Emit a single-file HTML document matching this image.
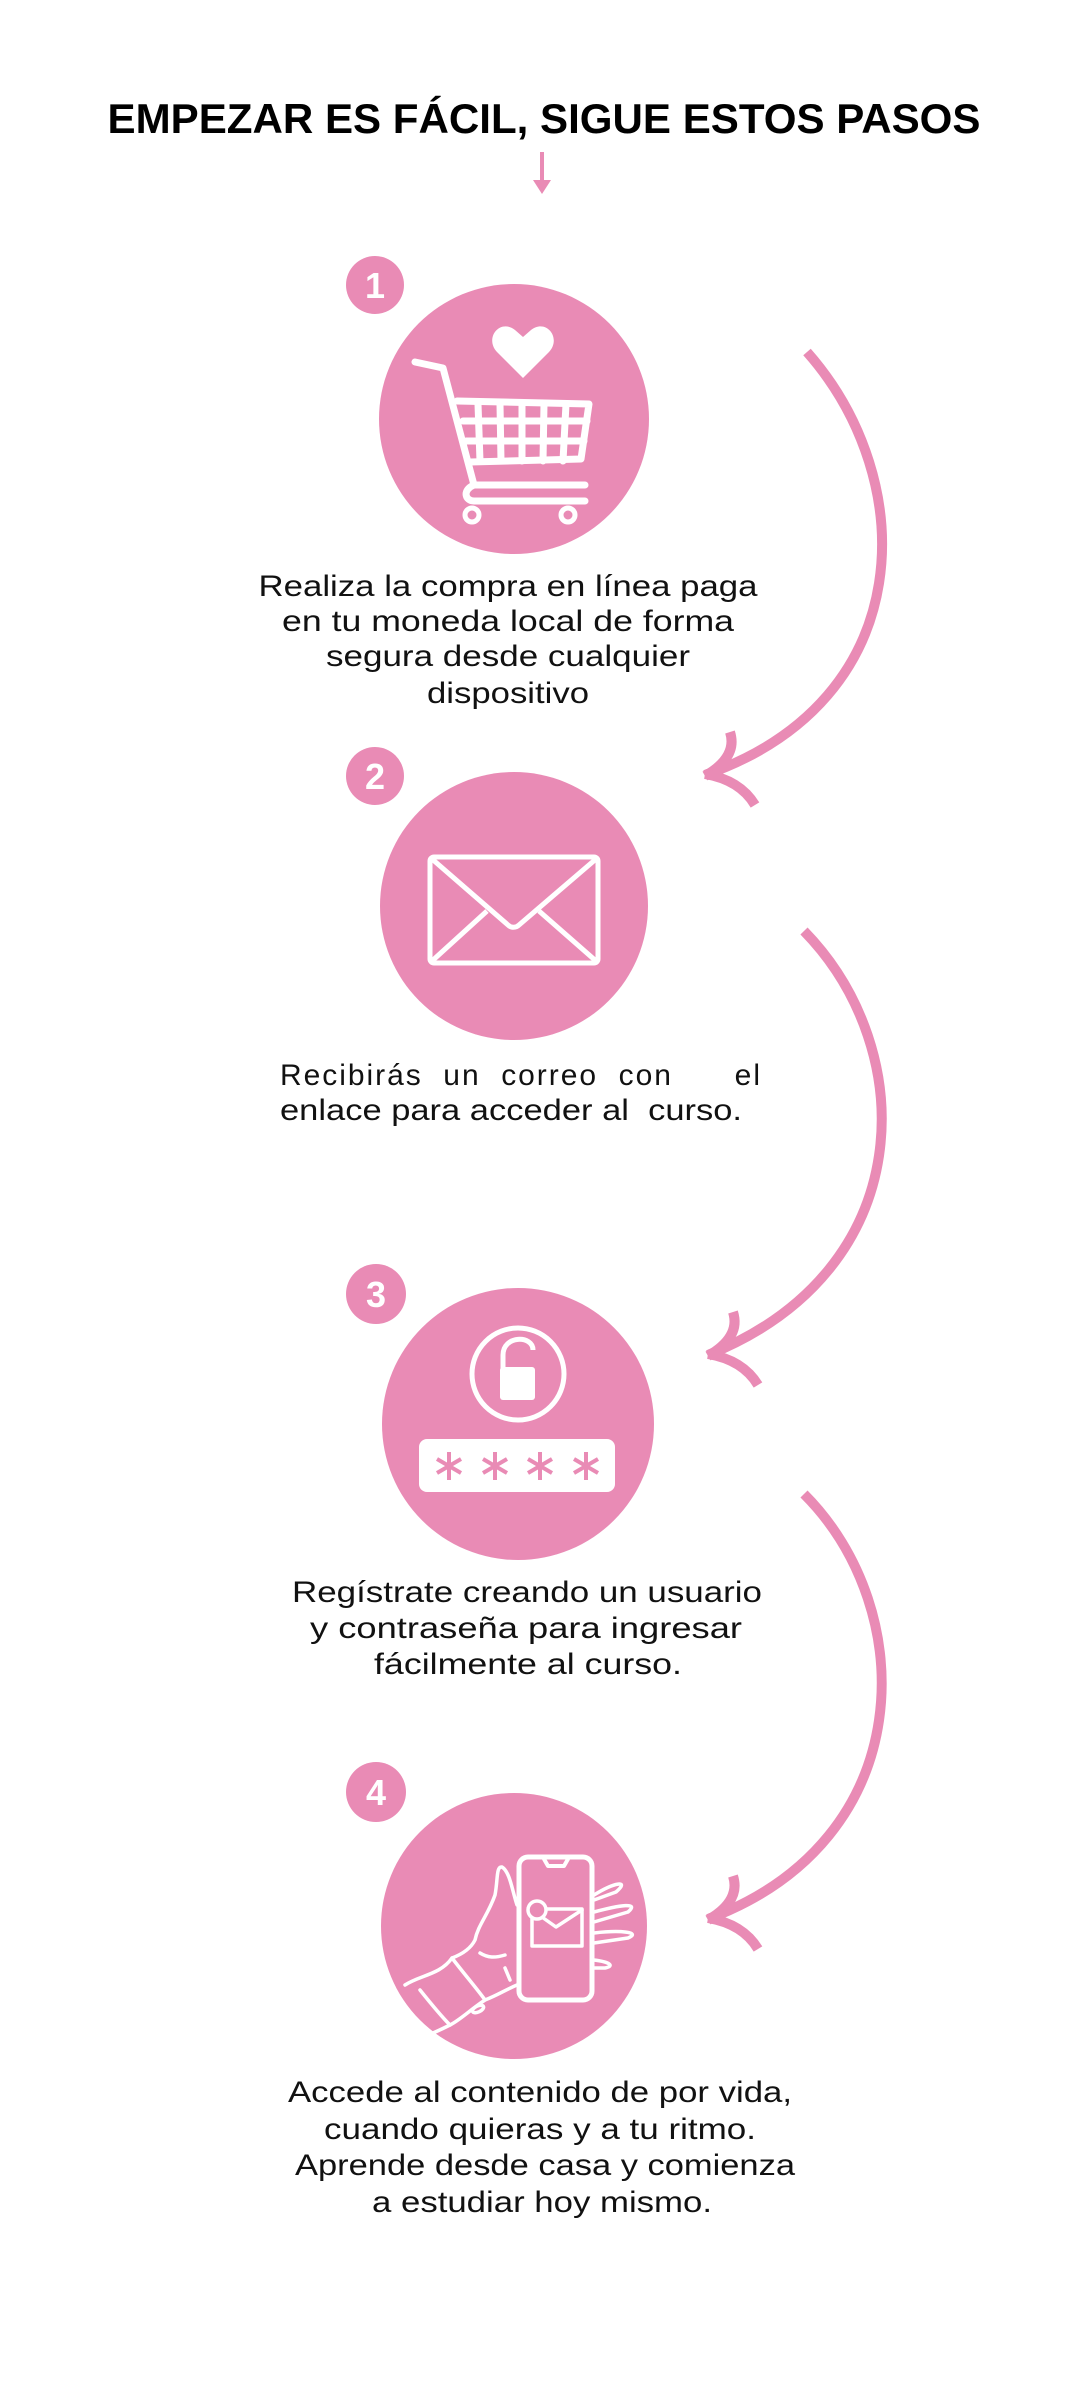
<!DOCTYPE html>
<html><head><meta charset="utf-8"><style>
html,body{margin:0;padding:0;background:#fff;}
svg{display:block;}
text{font-family:"Liberation Sans",sans-serif;}
</style></head><body>
<svg width="1080" height="2400" viewBox="0 0 1080 2400" xmlns="http://www.w3.org/2000/svg">
<rect width="1080" height="2400" fill="#fff"/>
<text x="544" y="133" text-anchor="middle" font-size="42" font-weight="bold" fill="#000" textLength="873" lengthAdjust="spacingAndGlyphs">EMPEZAR ES FÁCIL, SIGUE ESTOS PASOS</text>
<line x1="542" y1="152" x2="542" y2="182" stroke="#e98bb5" stroke-width="4"/>
<polygon points="533,180 551,180 542,194" fill="#e98bb5"/>

<g fill="#e98bb5">
<circle cx="375" cy="285" r="29"/>
<circle cx="514" cy="419" r="135"/>
<circle cx="375" cy="776" r="29"/>
<circle cx="514" cy="906" r="134"/>
<circle cx="376" cy="1294" r="30"/>
<circle cx="518" cy="1424" r="136"/>
<circle cx="376" cy="1792" r="30"/>
<circle cx="514" cy="1926" r="133"/>
</g>
<g fill="#fff" font-weight="bold" font-size="36" text-anchor="middle">
<text x="375" y="298">1</text>
<text x="375" y="789">2</text>
<text x="376" y="1307">3</text>
<text x="376" y="1805">4</text>
</g>

<g fill="none" stroke="#e98bb5" stroke-width="10" stroke-linecap="butt">
<path d="M807,352 C920,480 920,700 705,775"/>
<path d="M730,732 Q738,757 705,776"/>
<path d="M705,774 Q740,780 755,805"/>
<path d="M804,931 C920,1050 920,1270 708,1355"/>
<path d="M733,1312 Q741,1337 708,1356"/>
<path d="M708,1354 Q743,1360 758,1385"/>
<path d="M804,1494 C920,1610 920,1840 708,1919"/>
<path d="M733,1876 Q741,1901 708,1920"/>
<path d="M708,1918 Q743,1924 758,1949"/>
</g>

<g fill="none" stroke="#fff" stroke-width="7" stroke-linecap="round" stroke-linejoin="round">
<path d="M415,362 L443,368 L474,485 L585,485"/>
<path d="M457,401 L589,404 L581,459 L470,462"/>
<path d="M478,404 L480,461 M500,404 L501,461 M522,404 L522,461 M544,404 L543,461 M566,404 L563,461"/>
<path d="M463,421 L587,421 M466,441 L584,441"/>
<path d="M474,485 C462,490 465,501 474,501 L585,501"/>
<circle cx="472" cy="515" r="7" stroke-width="5"/>
<circle cx="568" cy="515" r="7" stroke-width="5"/>
</g>
<path d="M523,378 L497,352 C484,338 500,318 515,330 L523,337 L531,330 C546,318 562,338 549,352 Z" fill="#fff"/>

<g fill="none" stroke="#fff" stroke-width="5" stroke-linejoin="round">
<rect x="430" y="857" width="168" height="106" rx="4"/>
<path d="M432,859 L508,925 C511,928 516,928 519,925 L596,859"/>
<path d="M432,961 L487,911 M596,961 L539,911"/>
</g>

<g fill="none" stroke="#fff" stroke-width="5">
<circle cx="518" cy="1374" r="46"/>
<path d="M503,1370 L503,1355 C503,1335 533,1335 533,1350"/>
</g>
<rect x="500" y="1367" width="35" height="33" rx="3" fill="#fff"/>
<rect x="419" y="1439" width="196" height="53" rx="8" fill="#fff"/>
<g stroke="#e98bb5" stroke-width="4">
<path d="M449,1452 L449,1480 M437,1459 L461,1473 M437,1473 L461,1459"/>
<path d="M495,1452 L495,1480 M483,1459 L507,1473 M483,1473 L507,1459"/>
<path d="M540,1452 L540,1480 M528,1459 L552,1473 M528,1473 L552,1459"/>
<path d="M586,1452 L586,1480 M574,1459 L598,1473 M574,1473 L598,1459"/>
</g>

<g fill="none" stroke="#fff" stroke-width="3.5" stroke-linejoin="round" stroke-linecap="round">
<rect x="519" y="1857" width="73" height="143" rx="9" stroke-width="5"/>
<path d="M544,1859 L548,1866 L564,1866 L568,1859" stroke-width="4"/>
<rect x="532" y="1909" width="50" height="37"/>
<path d="M532,1910 L556,1927 L582,1910"/>
<circle cx="537" cy="1910" r="9" fill="#e98bb5"/>
<path d="M594,1895 C615,1882 630,1880 616,1892 L594,1900"/>
<path d="M594,1912 C620,1905 640,1902 628,1912 L594,1922"/>
<path d="M594,1933 C620,1930 642,1932 628,1938 L594,1943"/>
<path d="M594,1960 C610,1962 615,1966 605,1968 L594,1968"/>
<path d="M517,1905 C512,1890 510,1872 502,1867 C496,1866 498,1880 495,1895 C488,1915 478,1925 475,1940 C470,1950 460,1955 452,1958"/>
<path d="M480,1953 C488,1958 495,1958 505,1955"/>
<path d="M505,1968 L510,1980 M517,1985 C505,1990 498,1995 485,2000"/>
<path d="M405,1985 C420,1975 440,1975 452,1958 C465,1975 478,1990 485,2000 C470,2010 460,2020 450,2025 C440,2015 428,2000 420,1990"/>
<path d="M450,2025 C440,2030 430,2035 420,2038"/>
<ellipse cx="478" cy="2009" rx="6" ry="3" transform="rotate(-25 478 2009)"/>
</g>

<g font-size="30" fill="#111" text-anchor="middle">
<text x="508" y="596" textLength="499" lengthAdjust="spacingAndGlyphs">Realiza la compra en línea paga</text>
<text x="508" y="631" textLength="452" lengthAdjust="spacingAndGlyphs">en tu moneda local de forma</text>
<text x="508" y="666" textLength="364" lengthAdjust="spacingAndGlyphs">segura desde cualquier</text>
<text x="508" y="703" textLength="162" lengthAdjust="spacingAndGlyphs">dispositivo</text>
</g>
<g font-size="30" fill="#111">
<text x="280" y="1085" textLength="480" lengthAdjust="spacing" xml:space="preserve">Recibirás  un  correo  con      el</text>
<text x="280" y="1120" textLength="462" lengthAdjust="spacingAndGlyphs" xml:space="preserve">enlace para acceder al  curso.</text>
</g>
<g font-size="30" fill="#111" text-anchor="middle">
<text x="527" y="1602" textLength="470" lengthAdjust="spacingAndGlyphs">Regístrate creando un usuario</text>
<text x="526" y="1638" textLength="432" lengthAdjust="spacingAndGlyphs">y contraseña para ingresar</text>
<text x="528" y="1674" textLength="308" lengthAdjust="spacingAndGlyphs">fácilmente al curso.</text>
<text x="540" y="2102" textLength="504" lengthAdjust="spacingAndGlyphs">Accede al contenido de por vida,</text>
<text x="540" y="2139" textLength="432" lengthAdjust="spacingAndGlyphs">cuando quieras y a tu ritmo.</text>
<text x="545" y="2175" textLength="500" lengthAdjust="spacingAndGlyphs">Aprende desde casa y comienza</text>
<text x="542" y="2212" textLength="340" lengthAdjust="spacingAndGlyphs">a estudiar hoy mismo.</text>
</g>
</svg>
</body></html>
